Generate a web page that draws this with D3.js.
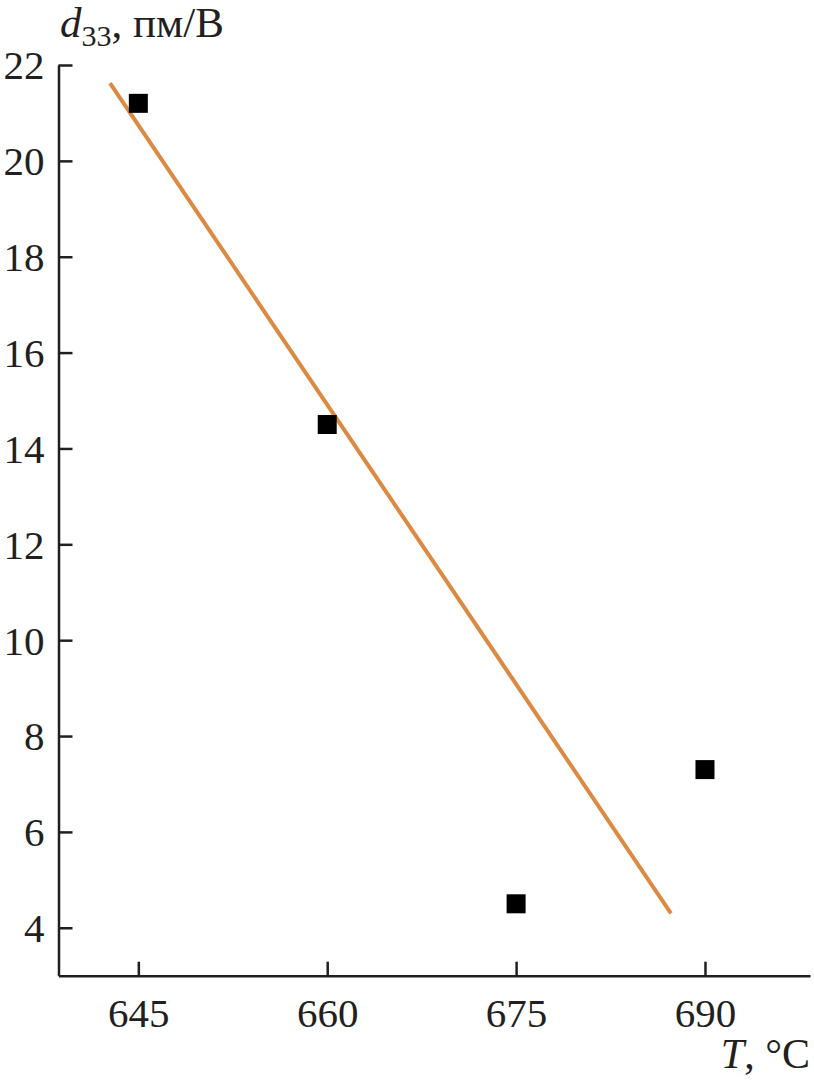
<!DOCTYPE html>
<html><head><meta charset="utf-8">
<script src="https://cdn.jsdelivr.net/npm/d3@7"></script>
<style>body{margin:0;background:#fff}svg text{font-family:"Liberation Serif","Times New Roman",serif;fill:#231f20}</style>
</head><body><svg id="c" width="814" height="1084"></svg>
<script>
const temps = [645, 660, 675, 690];
const d33 = [21.2, 14.5, 4.5, 7.3];
const fitT = [642.75, 687.3];
const fitD = [21.62, 4.3];
const xTicks = [645, 660, 675, 690];
const yTicks = [4, 6, 8, 10, 12, 14, 16, 18, 20, 22];

const svg = d3.select("#c");
const x = d3.scaleLinear().domain([638.66, 698.34]).range([58.5, 810]);
const y = d3.scaleLinear().domain([3, 22]).range([975.7, 65]);
const ink = "#231f20";

const xa = svg.append("g").attr("transform", `translate(0,${y(3)})`)
  .call(d3.axisBottom(x).tickValues(xTicks).tickSizeInner(-14).tickSizeOuter(0).tickPadding(22).tickFormat(d3.format("d")));
const ya = svg.append("g").attr("transform", `translate(${x(638.66)},0)`)
  .call(d3.axisLeft(y).tickValues(yTicks).tickSizeInner(-14).tickSizeOuter(0).tickPadding(14).tickFormat(d3.format("d")));
[xa, ya].forEach(g => {
  g.select(".domain").attr("stroke", ink).attr("stroke-width", 2.5);
  g.selectAll(".tick line").attr("stroke", ink).attr("stroke-width", 2.5);
  g.selectAll(".tick text").attr("font-size", 41).attr("fill", ink)
   .style("font-family", '"Liberation Serif",serif');
});
xa.selectAll(".tick text").attr("dy", "0.71em");
ya.selectAll(".tick text").attr("dy", "0.34em");

svg.append("line")
  .attr("x1", x(fitT[0])).attr("y1", y(fitD[0]))
  .attr("x2", x(fitT[1])).attr("y2", y(fitD[1]))
  .attr("stroke", "#dc8a42").attr("stroke-width", 4);

const s = 19;
svg.selectAll("rect.pt").data(temps.map((t, i) => [t, d33[i]])).enter()
  .append("rect").attr("class", "pt")
  .attr("x", d => x(d[0]) - s / 2).attr("y", d => y(d[1]) - s / 2)
  .attr("width", s).attr("height", s).attr("fill", "#000");

const yl = svg.append("text").attr("x", 60).attr("y", 37).attr("font-size", 43);
yl.append("tspan").attr("font-style", "italic").text("d");
yl.append("tspan").attr("font-size", 30).attr("dy", 9).text("33");
yl.append("tspan").attr("dy", -9).text(", пм/В");

const xl = svg.append("text").attr("x", 810).attr("y", 1068).attr("font-size", 42).attr("text-anchor", "end");
xl.append("tspan").attr("font-style", "italic").text("T");
xl.append("tspan").text(", °C");
</script></body></html>
